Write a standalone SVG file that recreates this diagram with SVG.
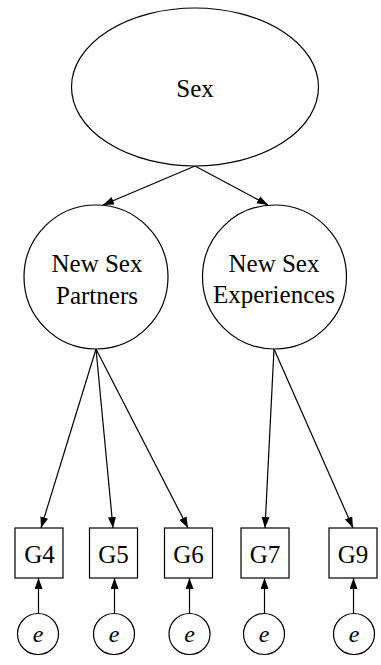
<svg xmlns="http://www.w3.org/2000/svg" width="381" height="665" viewBox="0 0 381 665">
<style>
.n{fill:#fff;stroke:#000;stroke-width:1.2}
.t{font-family:'Liberation Serif','Times New Roman',Times,'DejaVu Serif',serif;font-size:25px;fill:#000;text-anchor:middle}
.e{font-style:italic;font-size:24px}
.c{stroke:#000;stroke-width:1.2;fill:none;marker-end:url(#ah)}
</style>
<defs>
<marker id="ah" markerUnits="userSpaceOnUse" markerWidth="12" markerHeight="10" refX="11" refY="4" orient="auto">
<path d="M0,0 L11,4 L0,8 z" fill="#000"/>
</marker>
</defs>
<rect width="381" height="665" fill="#fff"/>
<g id="connectors">
<line class="c" x1="195" y1="166" x2="103" y2="205"/>
<line class="c" x1="195" y1="166" x2="268" y2="205"/>
<line class="c" x1="96" y1="349" x2="41" y2="528"/>
<line class="c" x1="96" y1="349" x2="113" y2="528"/>
<line class="c" x1="96" y1="349" x2="188" y2="528"/>
<line class="c" x1="274" y1="349" x2="265" y2="528"/>
<line class="c" x1="274" y1="349" x2="353" y2="528"/>
<line class="c" x1="38.5" y1="613" x2="38.5" y2="578"/>
<line class="c" x1="114.5" y1="613" x2="114.5" y2="578"/>
<line class="c" x1="189.5" y1="613" x2="189.5" y2="578"/>
<line class="c" x1="264.5" y1="613" x2="264.5" y2="578"/>
<line class="c" x1="353.5" y1="613" x2="353.5" y2="578"/>
</g>
<g font-family="Liberation Serif, Times New Roman, serif">
<g id="sex"><ellipse class="n" cx="195" cy="87" rx="123.5" ry="79"/><text class="t" x="195" y="97">Sex</text></g>
<g id="partners"><circle class="n" cx="96" cy="277" r="72"/><text class="t" x="97" y="272">New Sex</text><text class="t" x="97" y="304">Partners</text></g>
<g id="experiences"><circle class="n" cx="274.5" cy="277" r="72"/><text class="t" x="274" y="272">New Sex</text><text class="t" x="274" y="303">Experiences</text></g>
<g id="G4"><rect class="n" x="15" y="528" width="48" height="50"/><text class="t" x="39.5" y="563">G4</text></g>
<g id="G5"><rect class="n" x="89.5" y="528" width="48" height="50"/><text class="t" x="113.5" y="563">G5</text></g>
<g id="G6"><rect class="n" x="164.5" y="528" width="48" height="50"/><text class="t" x="188.5" y="563">G6</text></g>
<g id="G7"><rect class="n" x="241" y="528" width="48" height="50"/><text class="t" x="265" y="563">G7</text></g>
<g id="G9"><rect class="n" x="329" y="528" width="48" height="50"/><text class="t" x="353" y="563">G9</text></g>
<g id="e4"><circle class="n" cx="38" cy="634" r="20.5"/><text class="t e" x="38" y="642">e</text></g>
<g id="e5"><circle class="n" cx="114" cy="634" r="20.5"/><text class="t e" x="114" y="642">e</text></g>
<g id="e6"><circle class="n" cx="189.5" cy="634" r="20.5"/><text class="t e" x="189.5" y="642">e</text></g>
<g id="e7"><circle class="n" cx="264" cy="634" r="20.5"/><text class="t e" x="264" y="642">e</text></g>
<g id="e9"><circle class="n" cx="354" cy="634" r="20.5"/><text class="t e" x="354" y="642">e</text></g>
</g>
</svg>
